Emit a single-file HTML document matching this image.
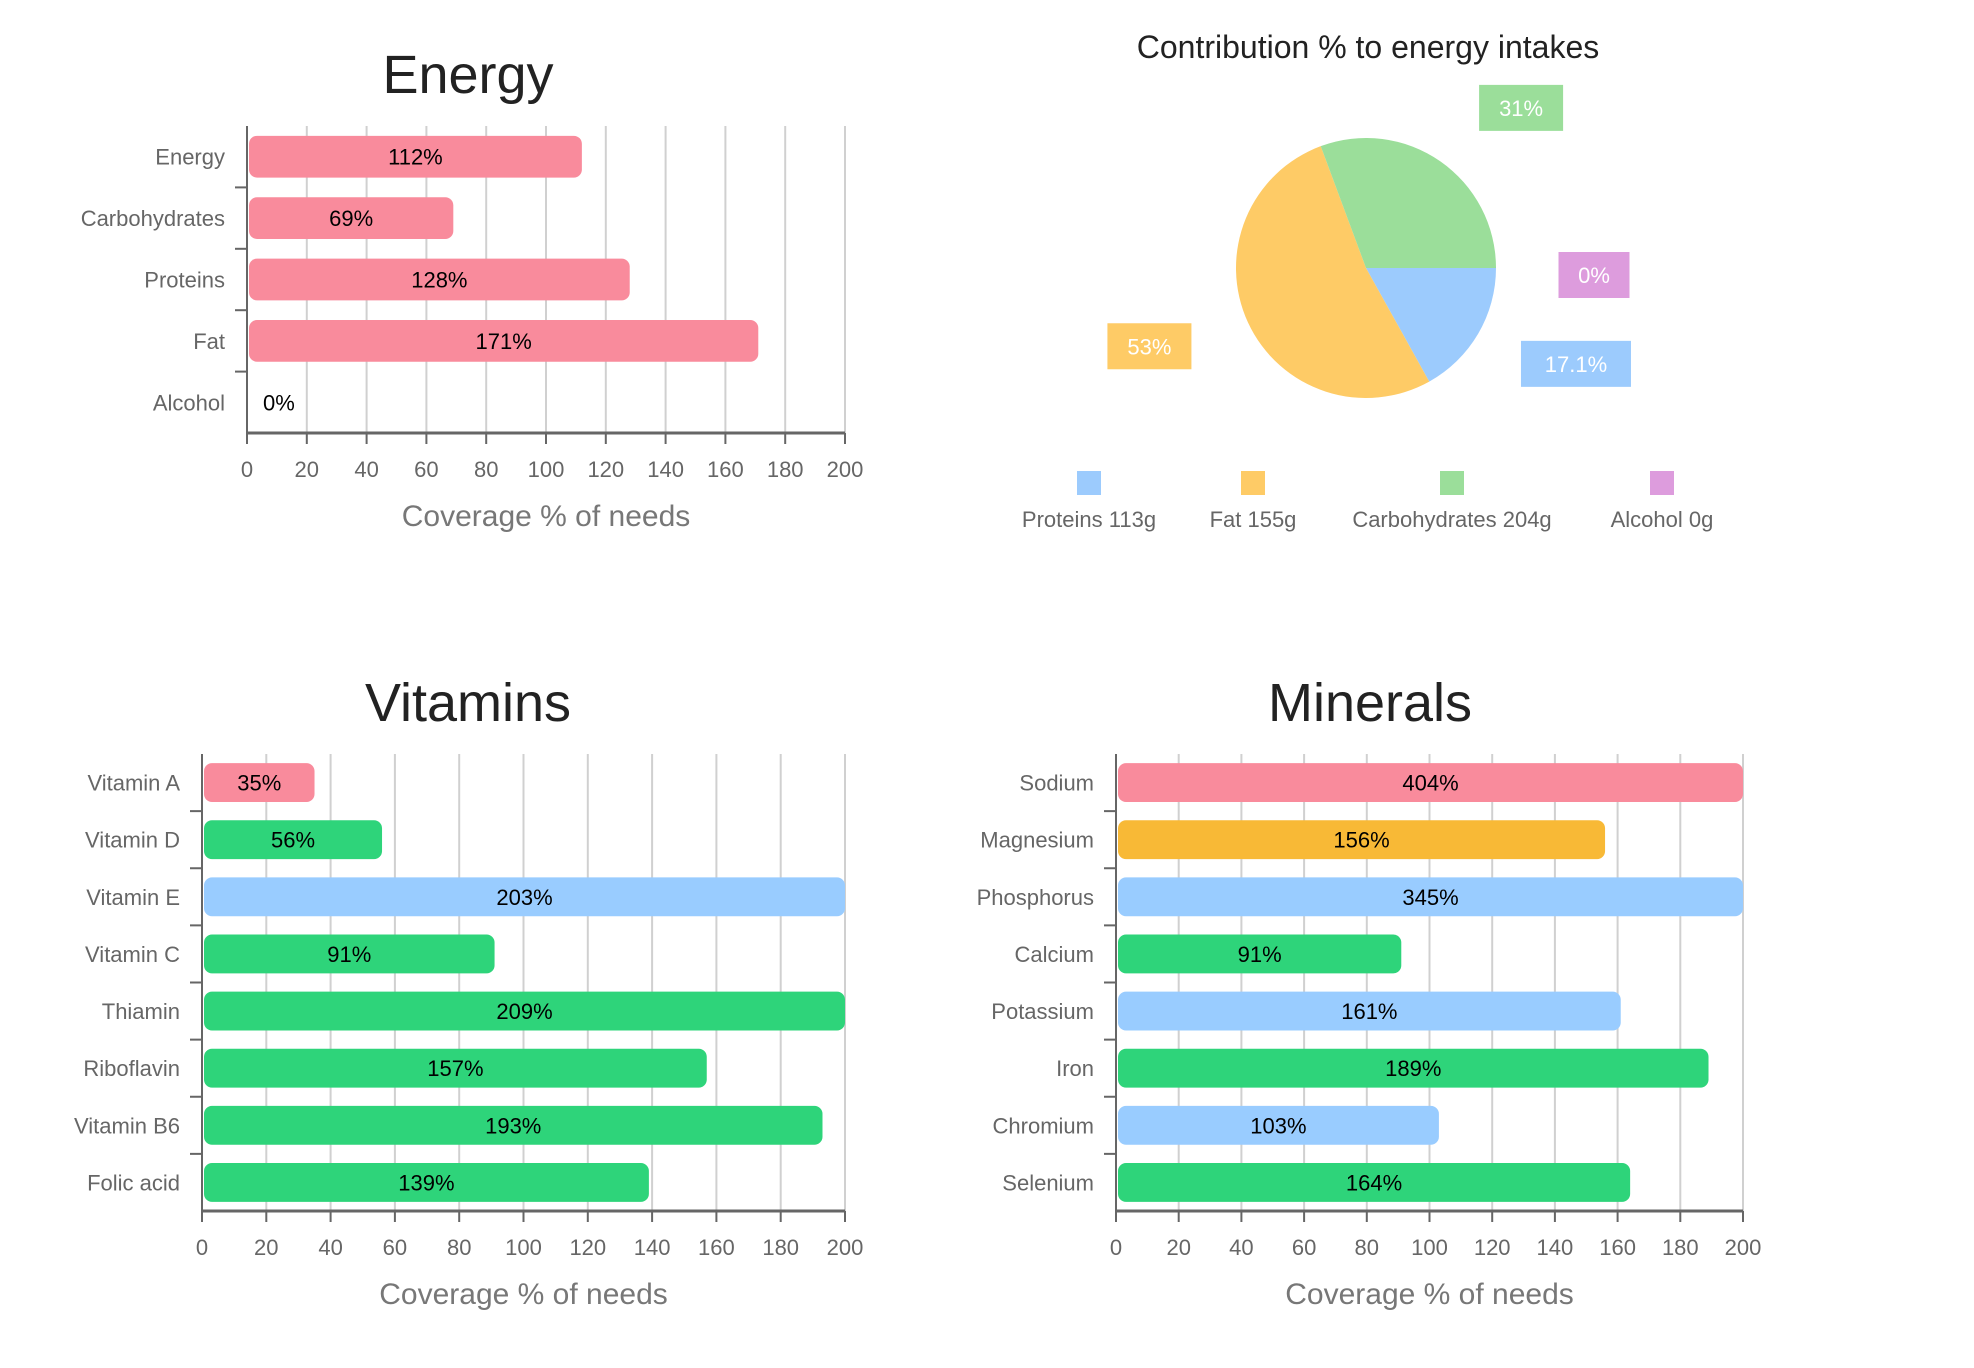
<!DOCTYPE html>
<html><head><meta charset="utf-8"><style>
html,body{margin:0;padding:0;background:#fff;}
svg{display:block;font-family:"Liberation Sans",sans-serif;}
</style></head><body>
<svg id="root" width="1974" height="1368" viewBox="0 0 1974 1368"></svg>
<script>
// Energy chart data
const energyCats = ["Energy","Carbohydrates","Proteins","Fat","Alcohol"];
const energyVals = [112,69,128,171,0];
const energyColors = ["#f98b9c","#f98b9c","#f98b9c","#f98b9c","#f98b9c"];
// Vitamins data
const vitCats = ["Vitamin A","Vitamin D","Vitamin E","Vitamin C","Thiamin","Riboflavin","Vitamin B6","Folic acid"];
const vitVals = [35,56,203,91,209,157,193,139];
const vitColors = ["#f98b9c","#2ed47a","#99ccff","#2ed47a","#2ed47a","#2ed47a","#2ed47a","#2ed47a"];
// Minerals data
const minCats = ["Sodium","Magnesium","Phosphorus","Calcium","Potassium","Iron","Chromium","Selenium"];
const minVals = [404,156,345,91,161,189,103,164];
const minColors = ["#f98b9c","#f8b936","#99ccff","#2ed47a","#99ccff","#2ed47a","#99ccff","#2ed47a"];
// Axis ticks
const xTicks = [0,20,40,60,80,100,120,140,160,180,200];
// Pie data
const pieLabels = ["Proteins 113g","Fat 155g","Carbohydrates 204g","Alcohol 0g"];
const pieVals = [17.1,53,31,0];
const pieText = ["17.1%","53%","31%","0%"];
const pieColors = ["#9ccbfd","#fecb66","#9bde9a","#dd9cdd"];

const NS="http://www.w3.org/2000/svg";
const root=document.getElementById('root');
function mk(tag,attrs,parent,text){const e=document.createElementNS(NS,tag);for(const k in attrs)e.setAttribute(k,attrs[k]);if(text!==undefined)e.textContent=text;(parent||root).appendChild(e);return e;}

function barChart(key,title,cats,vals,colors,box){
  const g=mk('g',{});
  
  
  const x=v=>box.x0+(Math.min(v,200)/200)*(box.x1-box.x0);
  const band=(box.y1-box.y0)/cats.length;
  const t=mk('text',{x:box.tx,y:box.ty,'text-anchor':'middle','font-size':54,fill:'#222'},g,title);
  
  xTicks.forEach(v=>{
    const gl=mk('line',{x1:x(v),x2:x(v),y1:box.y0,y2:box.y1,stroke:'#d0d0d0','stroke-width':2},g);
    
    mk('line',{x1:x(v),x2:x(v),y1:box.y1,y2:box.y1+11,stroke:'#666','stroke-width':2},g);
    const tl=mk('text',{x:x(v),y:box.y1+44,'text-anchor':'middle','font-size':22,fill:'#666'},g,String(v));
    
  });
  for(let i=1;i<cats.length;i++){
    mk('line',{x1:box.x0-12,x2:box.x0,y1:box.y0+band*i,y2:box.y0+band*i,stroke:'#666','stroke-width':2},g);
  }
  cats.forEach((c,i)=>{
    const cy=box.y0+band*(i+0.5);
    const lb=mk('text',{x:box.x0-22,y:cy+8,'text-anchor':'end','font-size':22,fill:'#666'},g,c);
    
    const h=band*0.68;
    const w=x(vals[i])-box.x0-2;
    if(w>0){
      const r=mk('rect',{x:box.x0+2,y:cy-h/2,width:w,height:h,rx:8,fill:colors[i]},g);
      
      
    }
    const lx=w>40?box.x0+2+w/2:box.x0+16;
    const vt=mk('text',{x:lx,y:cy+8,'text-anchor':w>40?'middle':'start','font-size':22,fill:'#000'},g,vals[i]+'%');
    
  });
  mk('line',{x1:box.x0,x2:box.x0,y1:box.y0,y2:box.y1,stroke:'#666','stroke-width':2},g);
  mk('line',{x1:box.x0,x2:box.x1,y1:box.y1,y2:box.y1,stroke:'#666','stroke-width':3},g);
  const at=mk('text',{x:(box.x0+box.x1)/2,y:box.y1+93,'text-anchor':'middle','font-size':30,fill:'#777'},g,'Coverage % of needs');
  
}
barChart('energy','Energy',energyCats,energyVals,energyColors,{x0:247,x1:845,y0:126,y1:433,tx:468,ty:93});
barChart('vitamins','Vitamins',vitCats,vitVals,vitColors,{x0:202,x1:845,y0:754,y1:1211,tx:468,ty:721});
barChart('minerals','Minerals',minCats,minVals,minColors,{x0:1116,x1:1743,y0:754,y1:1211,tx:1370,ty:721});

// Pie
(function(){
  const g=mk('g',{});
  
  
  const cx=1366,cy=268,R=130;
  const t=mk('text',{x:1368,y:58,'text-anchor':'middle','font-size':32,fill:'#222'},g,'Contribution % to energy intakes');
  
  const tot=pieVals.reduce((a,b)=>a+b,0);
  let a0=0;
  pieVals.forEach((v,i)=>{
    const sweep=v/tot*Math.PI*2;const a1=a0+sweep;
    if(v>0){
      const p=mk('path',{d:`M${cx},${cy} L${cx+R*Math.cos(a0)},${cy+R*Math.sin(a0)} A${R},${R} 0 ${sweep>Math.PI?1:0} 1 ${cx+R*Math.cos(a1)},${cy+R*Math.sin(a1)} Z`,fill:pieColors[i]},g);
      
    }
    let mid=(a0+a1)/2; if(v===0) mid=0;
    mid=mid-0.15*Math.sin(2*mid);
    const lr=228, bx=cx+lr*Math.cos(mid), by=cy+lr*Math.sin(mid)+7;
    const bw=pieText[i].length*13+45;
    const rb=mk('rect',{x:bx-bw/2,y:by-23,width:bw,height:46,fill:pieColors[i]},g);
    
    const lt=mk('text',{x:bx,y:by+8,'text-anchor':'middle','font-size':22,fill:'#fff'},g,pieText[i]);
    
    a0=a1;
  });
  const lx=[1089,1253,1452,1662];
  pieLabels.forEach((l,i)=>{
    const s=mk('rect',{x:lx[i]-12,y:471,width:24,height:24,fill:pieColors[i]},g);
    
    const tx=mk('text',{x:lx[i],y:527,'text-anchor':'middle','font-size':22,fill:'#666'},g,l);
    
  });
})();
</script>
</body></html>
